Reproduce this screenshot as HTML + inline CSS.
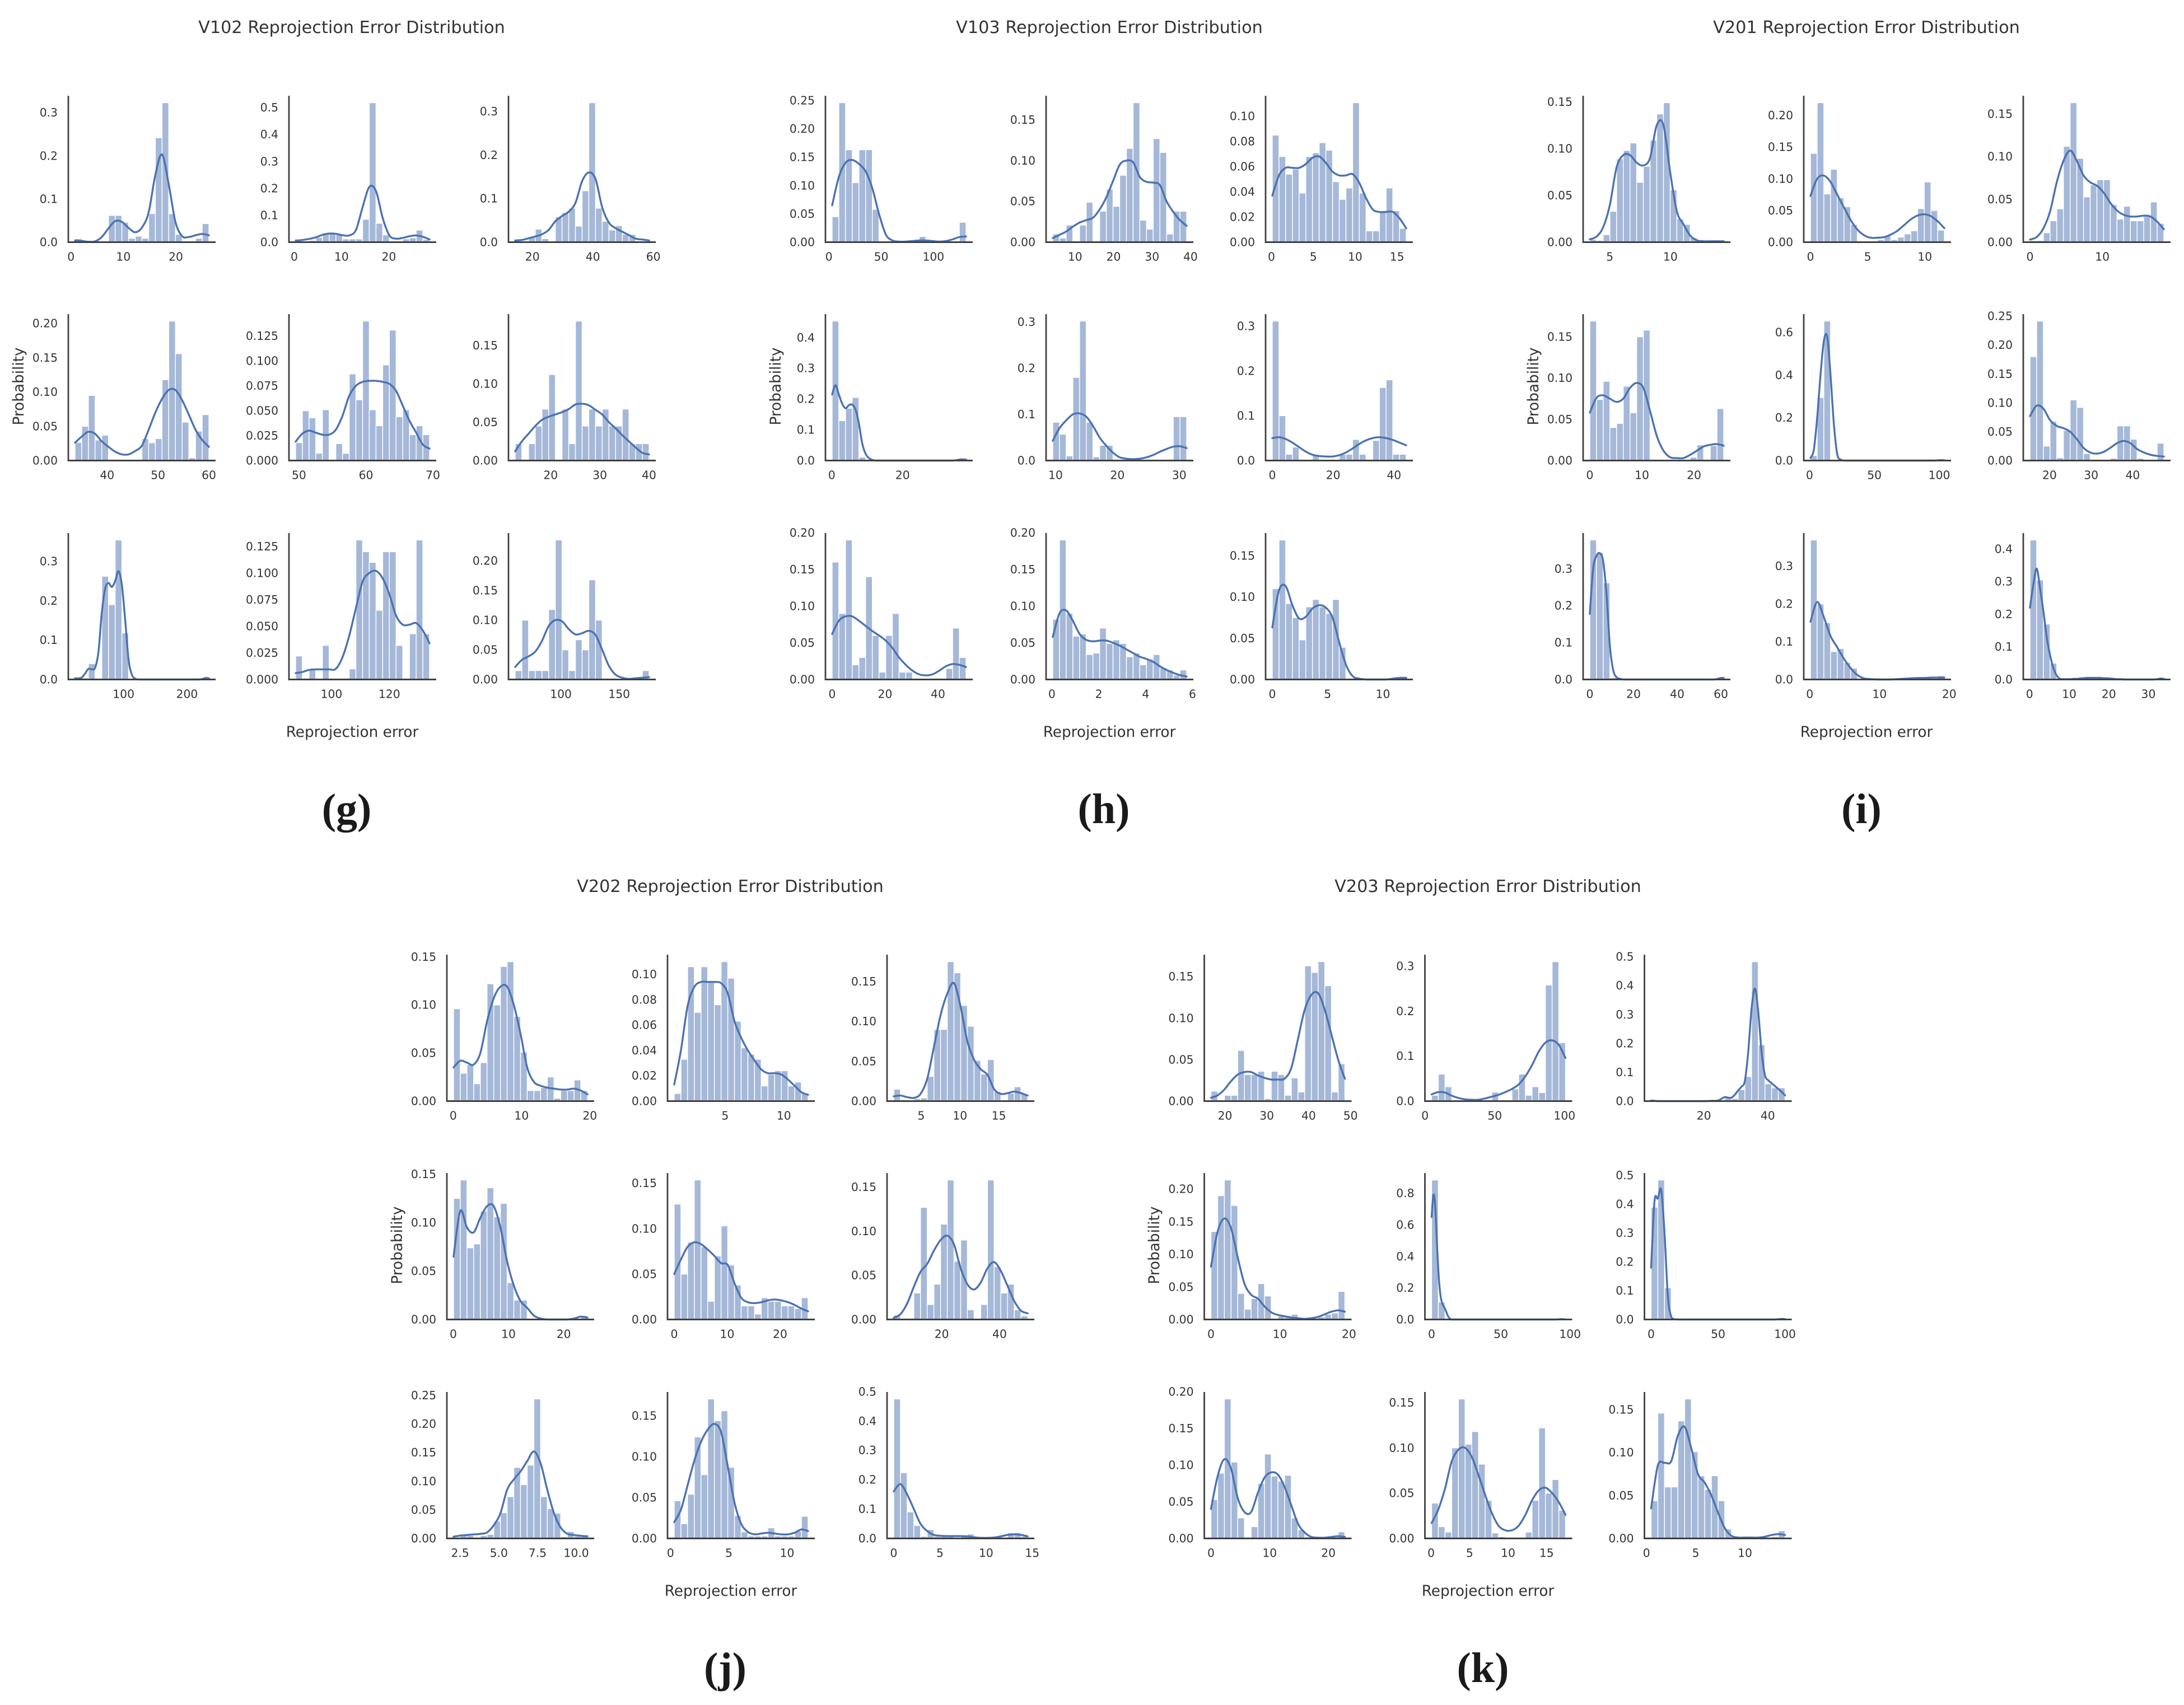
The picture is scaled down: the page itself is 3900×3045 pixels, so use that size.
<!DOCTYPE html>
<html lang="en">
<head>
<meta charset="utf-8">
<title>Reprojection Error Distributions</title>
<style>
html,body{margin:0;padding:0;background:#fff;}
svg{display:block;}
text{font-family:"DejaVu Sans","Liberation Sans",sans-serif;fill:#333;}
.title{font-size:30.3px;text-anchor:middle;}
.axlabel{font-size:26.3px;text-anchor:middle;}
.letter{font-family:"Liberation Serif",serif;font-size:76px;font-weight:bold;text-anchor:middle;fill:#1a1a1a;}
.tick{font-size:20.3px;}
</style>
</head>
<body>
<svg id="figure" xmlns="http://www.w3.org/2000/svg" width="3900" height="3045" viewBox="0 0 3900 3045">
<rect x="0" y="0" width="3900" height="3045" fill="#fff"/>
<text class="title" x="628" y="59">V102 Reprojection Error Distribution</text>
<text class="title" x="1981" y="59">V103 Reprojection Error Distribution</text>
<text class="title" x="3333" y="59">V201 Reprojection Error Distribution</text>
<text class="title" x="1304" y="1593">V202 Reprojection Error Distribution</text>
<text class="title" x="2657" y="1593">V203 Reprojection Error Distribution</text>
<text class="axlabel" x="629" y="1316">Reprojection error</text>
<text class="axlabel" x="1981" y="1316">Reprojection error</text>
<text class="axlabel" x="3333" y="1316">Reprojection error</text>
<text class="axlabel" x="1305" y="2850">Reprojection error</text>
<text class="axlabel" x="2657" y="2850">Reprojection error</text>
<text class="axlabel" transform="translate(42,690) rotate(-90)">Probability</text>
<text class="axlabel" transform="translate(1394,690) rotate(-90)">Probability</text>
<text class="axlabel" transform="translate(2747,690) rotate(-90)">Probability</text>
<text class="axlabel" transform="translate(718,2224) rotate(-90)">Probability</text>
<text class="axlabel" transform="translate(2070,2224) rotate(-90)">Probability</text>
<text class="letter" x="619" y="1470">(g)</text>
<text class="letter" x="1971" y="1470">(h)</text>
<text class="letter" x="3324" y="1470">(i)</text>
<text class="letter" x="1295" y="3004">(j)</text>
<text class="letter" x="2648" y="3004">(k)</text>
</svg>
<script>
/* V102 (g) */
const g1Range=[0.78,26.3];
const g1Bars=[.008,0,0,0,.003,.062,.062,.046,.009,.014,.009,.066,.242,.323,.066,.018,.003,.003,.009,.043];
const g1Kde=[.004,.003,.001,.002,.012,.032,.049,.047,.033,.023,.034,.069,.156,.203,.134,.047,.014,.012,.016,.019,.016];
const g1XTicks=['0','10','20'];
const g1YTicks=['0.0','0.1','0.2','0.3'];
const g2Range=[0.3,28.6];
const g2Bars=[.003,.003,.007,.018,.035,.035,.028,.012,.012,.012,.085,.518,.07,.027,.002,.002,.012,.016,.045,.01];
const g2Kde=[.006,.008,.012,.018,.027,.032,.031,.026,.025,.045,.13,.205,.19,.09,.025,.013,.016,.022,.025,.02,.01];
const g2XTicks=['0','10','20'];
const g2YTicks=['0.0','0.1','0.2','0.3','0.4','0.5'];
const g3Range=[14.3,58.6];
const g3Bars=[.003,.003,.012,.03,.008,0,.058,.068,.078,.037,.118,.32,.078,.048,.028,.038,.018,.018,.003,.003];
const g3Kde=[.004,.005,.009,.013,.018,.028,.048,.06,.07,.09,.14,.16,.145,.08,.045,.032,.024,.016,.008,.006,.004];
const g3XTicks=['20','40','60'];
const g3YTicks=['0.0','0.1','0.2','0.3'];
const g4Range=[33.7,60];
const g4Bars=[.0265,.05,.095,.03,.037,0,0,0,0,0,.032,.026,.032,.118,.2035,.156,.056,.004,.043,.067];
const g4Kde=[.026,.035,.042,.039,.028,.02,.013,.009,.009,.014,.022,.045,.07,.09,.103,.103,.088,.067,.045,.03,.02];
const g4XTicks=['40','50','60'];
const g4YTicks=['0.00','0.05','0.10','0.15','0.20'];
const g5Range=[49.5,69.5];
const g5Bars=[.018,.05,.043,.0073,.051,0,.017,.0073,.087,.061,.14,.051,.035,.096,.131,.044,.051,.026,.035,.026];
const g5Kde=[.019,.027,.03,.028,.026,.026,.031,.045,.065,.075,.079,.08,.08,.079,.077,.07,.055,.04,.028,.016,.012];
const g5XTicks=['50','60','70'];
const g5YTicks=['0.000','0.025','0.050','0.075','0.100','0.125'];
const g6Range=[12.8,40];
const g6Bars=[.022,0,.022,.045,.067,.112,0,.067,.022,.1816,.045,.067,.045,.067,.045,.045,.067,.022,.022,.022];
const g6Kde=[.012,.025,.035,.045,.053,.057,.06,.063,.067,.073,.074,.072,.066,.06,.05,.042,.033,.025,.017,.01,.008];
const g6XTicks=['20','30','40'];
const g6YTicks=['0.00','0.05','0.10','0.15'];
const g7Range=[23.5,234.5];
const g7Bars=[.005,.004,.04,0,.262,.19,.354,.118,0,0,0,0,0,0,0,0,0,0,0,.004];
const g7Kde=[.003,.003,.005,.015,.027,.026,.03,.07,.17,.23,.245,.235,.25,.275,.24,.15,.05,.012,.002,0,0,0,0,0,0,0,0,0,0,0,0,0,0,0,0,0,0,0,.001,.004,.003];
const g7XTicks=['100','200'];
const g7YTicks=['0.0','0.1','0.2','0.3'];
const g8Range=[87.6,133.9];
const g8Bars=[.022,0,.009,0,.032,0,0,0,.01,.131,.12,.11,.065,.12,.12,.032,0,.043,.131,.043];
const g8Kde=[.006,.007,.009,.0095,.0095,.0095,.01,.021,.041,.067,.092,.1,.102,.095,.08,.06,.0515,.0515,.053,.046,.034];
const g8XTicks=['100','120'];
const g8YTicks=['0.000','0.025','0.050','0.075','0.100','0.125'];
const g9Range=[60.8,175.6];
const g9Bars=[.015,.1,.015,.015,.015,.118,.235,.05,.015,.067,.05,.168,.1,0,0,0,0,0,0,.015];
const g9Kde=[.021,.033,.039,.047,.065,.09,.1,.098,.085,.076,.078,.082,.075,.05,.023,.008,.003,.001,.002,.003,.004];
const g9XTicks=['100','150'];
const g9YTicks=['0.00','0.05','0.10','0.15','0.20'];

/* V103 (h) */
const h1Range=[3.1,131.2];
const h1Bars=[.045,.246,.163,.105,.163,.163,.058,0,0,0,0,0,0,.01,0,0,0,0,0,.035];
const h1Kde=[.065,.115,.14,.145,.138,.125,.095,.05,.014,.003,.001,.001,.002,.003,.003,.002,.001,.002,.005,.009,.01];
const h1XTicks=['0','50','100'];
const h1YTicks=['0.00','0.05','0.10','0.15','0.20','0.25'];
const h2Range=[4.2,39];
const h2Bars=[.01,.005,.021,0,.021,.049,0,.038,.065,.044,.082,.115,.171,.027,.016,.127,.11,.01,.038,.038];
const h2Kde=[.005,.009,.013,.019,.024,.027,.03,.04,.055,.075,.095,.1,.098,.08,.074,.073,.07,.05,.037,.027,.02];
const h2XTicks=['10','20','30','40'];
const h2YTicks=['0.00','0.05','0.10','0.15'];
const h3Range=[0.1,16.1];
const h3Bars=[.085,.068,.054,.058,.039,.068,.071,.079,.073,.048,.034,.043,.1107,.039,.009,.009,.025,.043,.025,.011];
const h3Kde=[.037,.053,.059,.059,.059,.062,.067,.068,.063,.056,.053,.053,.054,.047,.035,.026,.024,.024,.024,.019,.011];
const h3XTicks=['0','5','10','15'];
const h3YTicks=['0.00','0.02','0.04','0.06','0.08','0.10'];
const h4Range=[0.1,37.9];
const h4Bars=[.4535,.13,.17,.205,.011,0,0,0,0,0,0,0,0,0,0,0,0,0,0,.003];
const h4Kde=[.215,.245,.215,.185,.17,.18,.182,.165,.12,.055,.022,.008,.002,0,0,0,0,0,0,0,0,0,0,0,0,0,0,0,0,0,0,0,0,0,0,0,0,.001,.003,.004,.003];
const h4XTicks=['0','20'];
const h4YTicks=['0.0','0.1','0.2','0.3','0.4'];
const h5Range=[9.55,31.2];
const h5Bars=[.083,.057,.01,.18,.302,.083,.008,.033,.033,0,0,0,0,0,0,0,0,0,.095,.095];
const h5Kde=[.043,.07,.087,.1,.102,.095,.075,.05,.032,.017,.007,.004,.003,.004,.007,.012,.019,.025,.03,.031,.027];
const h5XTicks=['10','20','30'];
const h5YTicks=['0.0','0.1','0.2','0.3'];
const h6Range=[0,44];
const h6Bars=[.311,.1,.014,.03,0,0,.014,0,0,0,.014,.014,.047,.014,0,.045,.163,.18,.014,.014];
const h6Kde=[.05,.052,.048,.04,.03,.02,.013,.01,.009,.009,.012,.018,.027,.037,.045,.05,.052,.05,.046,.04,.034];
const h6XTicks=['0','20','40'];
const h6YTicks=['0.0','0.1','0.2','0.3'];
const h7Range=[0,50.6];
const h7Bars=[.16,.09,.19,.02,.03,.14,.06,.01,.06,.09,.01,.01,0,0,0,0,0,.015,.07,.03];
const h7Kde=[.062,.08,.086,.086,.08,.073,.066,.06,.053,.043,.03,.02,.012,.007,.0056,.007,.012,.018,.021,.02,.017];
const h7XTicks=['0','20','40'];
const h7YTicks=['0.00','0.05','0.10','0.15','0.20'];
const h8Range=[0.04,5.75];
const h8Bars=[.082,.19,.09,.059,.062,.034,.036,.07,.049,.054,.049,.031,.036,.02,.028,.034,.016,.013,.006,.013];
const h8Kde=[.058,.09,.094,.08,.062,.054,.052,.053,.053,.05,.046,.041,.036,.031,.028,.024,.018,.013,.009,.006,.004];
const h8XTicks=['0','2','4','6'];
const h8YTicks=['0.00','0.05','0.10','0.15','0.20'];
const h9Range=[0,12.1];
const h9Bars=[.11,.169,.092,.075,.048,.088,.097,.088,.08,.097,.039,0,0,0,0,0,0,0,0,.003];
const h9Kde=[.063,.108,.113,.09,.074,.076,.086,.09,.087,.075,.045,.018,.004,.001,0,0,0,0,.001,.002,.002];
const h9XTicks=['0','5','10'];
const h9YTicks=['0.00','0.05','0.10','0.15'];

/* V201 (i) */
const i1Range=[3.35,14.4];
const i1Bars=[.003,.002,.008,.033,.089,.098,.106,.064,.081,.109,.137,.149,.056,.025,.019,.005,.001,.002,.002,.002];
const i1Kde=[.003,.006,.016,.04,.08,.093,.093,.085,.082,.09,.125,.125,.075,.033,.019,.007,.002,.001,.001,.001,.001];
const i1XTicks=['5','10'];
const i1YTicks=['0.00','0.05','0.10','0.15'];
const i2Range=[0,11.7];
const i2Bars=[.14,.22,.076,.115,.07,.056,.028,.002,0,0,.004,.01,.004,.008,.013,.018,.053,.095,.05,.019];
const i2Kde=[.073,.1,.105,.095,.075,.055,.035,.02,.011,.007,.007,.008,.012,.018,.027,.036,.042,.044,.041,.033,.022];
const i2XTicks=['0','5','10'];
const i2YTicks=['0.00','0.05','0.10','0.15','0.20'];
const i3Range=[0,18.5];
const i3Bars=[.002,.002,.011,.025,.039,.112,.163,.098,.053,.067,.073,.073,.044,.027,.042,.025,.025,.03,.047,.022];
const i3Kde=[.003,.006,.016,.036,.07,.095,.107,.095,.078,.07,.066,.058,.046,.037,.032,.03,.03,.031,.03,.024,.015];
const i3XTicks=['0','10'];
const i3YTicks=['0.00','0.05','0.10','0.15'];
const i4Range=[0,25.7];
const i4Bars=[.169,.074,.096,.04,.045,.09,.058,.15,.158,0,0,0,0,0,0,.004,.019,0,.018,.063];
const i4Kde=[.058,.076,.079,.075,.071,.075,.088,.094,.088,.06,.03,.012,.004,.003,.003,.007,.012,.017,.019,.02,.018];
const i4XTicks=['0','10','20'];
const i4YTicks=['0.00','0.05','0.10','0.15'];
const i5Range=[0.7,103.9];
const i5Bars=[.023,.295,.653,0,0,0,0,0,0,0,0,0,0,0,0,0,0,0,0,.002];
const i5Kde=[.012,.05,.2,.4,.56,.58,.4,.17,.03,.005,0,0,0,0,0,0,0,0,0,0,0,0,0,0,0,0,0,0,0,0,0,0,0,0,0,0,0,0,.001,.002,.001];
const i5XTicks=['0','50','100'];
const i5YTicks=['0.0','0.2','0.4','0.6'];
const i6Range=[15.3,47.5];
const i6Bars=[.18,.2415,.025,.068,.005,.052,.105,.092,.012,0,0,0,.004,.06,.06,.037,.004,0,0,.03];
const i6Kde=[.077,.095,.09,.07,.06,.056,.05,.037,.022,.014,.012,.015,.022,.03,.034,.03,.02,.014,.01,.008,.007];
const i6XTicks=['20','30','40'];
const i6YTicks=['0.00','0.05','0.10','0.15','0.20','0.25'];
const i7Range=[0,61.3];
const i7Bars=[.378,.345,.262,.005,0,0,0,0,0,0,0,0,0,0,0,0,0,0,0,.004];
const i7Kde=[.178,.3,.335,.342,.32,.23,.09,.025,.006,.002,0,0,0,0,0,0,0,0,0,0,0,0,0,0,0,0,0,0,0,0,0,0,0,0,0,0,0,0,.001,.004,.004];
const i7XTicks=['0','20','40','60'];
const i7YTicks=['0.0','0.1','0.2','0.3'];
const i8Range=[0.1,19.3];
const i8Bars=[.369,.2,.15,.074,.082,.045,.03,.003,0,0,0,0,0,0,0,0,0,0,0,.01];
const i8Kde=[.153,.205,.165,.115,.085,.055,.03,.012,.003,.001,0,0,0,.001,.002,.003,.004,.004,.005,.005,.005];
const i8XTicks=['0','10','20'];
const i8YTicks=['0.0','0.1','0.2','0.3'];
const i9Range=[0.1,33.9];
const i9Bars=[.4275,.305,.17,.05,0,0,0,0,0,0,.003,.003,.003,0,0,0,0,0,0,.002];
const i9Kde=[.22,.29,.34,.28,.21,.13,.075,.035,.012,.002,.001,.001,.001,.002,.002,.003,.004,.005,.005,.005,.005,.005,.004,.004,.003,.002,.001,.001,0,0,0,0,0,0,0,0,0,0,.001,.003,.002];
const i9XTicks=['0','10','20','30'];
const i9YTicks=['0.0','0.1','0.2','0.3','0.4'];

/* V202 (j) */
const j1Range=[0.05,19.65];
const j1Bars=[.096,.029,.038,.018,.04,.122,.1,.14,.145,.088,.051,.011,.011,.014,.025,.003,.011,.011,.022,.011];
const j1Kde=[.035,.042,.04,.038,.05,.083,.107,.119,.119,.1,.07,.035,.02,.016,.014,.013,.012,.012,.013,.011,.007];
const j1XTicks=['0','10','20'];
const j1YTicks=['0.00','0.05','0.10','0.15'];
const j2Range=[0.67,12.06];
const j2Bars=[.006,.033,.106,.07,.106,.095,.076,.11,.097,.063,.042,.037,.033,.012,.021,.024,.024,.012,.015,.006];
const j2Kde=[.013,.04,.075,.09,.094,.094,.094,.093,.085,.063,.05,.04,.032,.025,.022,.022,.021,.017,.012,.007,.005];
const j2XTicks=['5','10'];
const j2YTicks=['0.00','0.02','0.04','0.06','0.08','0.10'];
const j3Range=[1.47,18.7];
const j3Bars=[.015,.002,0,.003,.004,.031,.09,.09,.175,.161,.12,.094,.051,.034,.052,.012,.001,.01,.018,.009];
const j3Kde=[.006,.007,.005,.004,.009,.028,.068,.108,.135,.148,.118,.075,.052,.04,.033,.015,.009,.01,.012,.01,.007];
const j3XTicks=['5','10','15'];
const j3YTicks=['0.00','0.05','0.10','0.15'];
const j4Range=[0.05,24.3];
const j4Bars=[.125,.144,.074,.078,.112,.136,.106,.12,.038,.02,.02,0,0,0,0,0,0,0,0,.004];
const j4Kde=[.065,.112,.095,.09,.105,.117,.117,.095,.06,.035,.019,.012,.004,.001,0,0,0,0,.001,.003,.002];
const j4XTicks=['0','10','20'];
const j4YTicks=['0.00','0.05','0.10','0.15'];
const j5Range=[0,25.3];
const j5Bars=[.127,.05,.085,.1535,.08,.02,.07,.103,.06,.038,.015,.015,.006,.024,.02,.02,.015,.015,.012,.024];
const j5Kde=[.05,.066,.08,.085,.083,.077,.07,.062,.06,.04,.024,.019,.018,.019,.021,.022,.021,.019,.016,.012,.009];
const j5XTicks=['0','10','20'];
const j5YTicks=['0.00','0.05','0.10','0.15'];
const j6Range=[3.4,49.7];
const j6Bars=[.005,0,0,.03,.127,.017,.04,.108,.158,.066,.09,.011,0,.017,.158,.06,.03,.04,.011,.004];
const j6Kde=[.002,.006,.018,.037,.054,.063,.078,.09,.095,.085,.058,.04,.034,.042,.058,.065,.055,.038,.021,.01,.007];
const j6XTicks=['20','40'];
const j6YTicks=['0.00','0.05','0.10','0.15'];
const j7Range=[2.08,10.72];
const j7Bars=[.002,.007,.005,.002,.005,.007,.03,.045,.073,.124,.094,.128,.2436,.073,.052,.044,.003,.012,.004,.006];
const j7Kde=[.003,.005,.006,.007,.008,.0105,.023,.044,.085,.103,.117,.135,.152,.131,.085,.044,.019,.008,.006,.0046,.0037];
const j7XTicks=['2.5','5.0','7.5','10.0'];
const j7YTicks=['0.00','0.05','0.10','0.15','0.20','0.25'];
const j8Range=[0.32,11.8];
const j8Bars=[.046,.018,.054,.124,.078,.1705,.144,.156,.087,.028,.008,.003,.003,.003,.013,.003,.003,.003,.009,.027];
const j8Kde=[.02,.035,.065,.095,.118,.133,.14,.13,.088,.044,.018,.008,.005,.006,.007,.006,.005,.005,.007,.011,.009];
const j8XTicks=['0','5','10'];
const j8YTicks=['0.00','0.05','0.10','0.15'];
const j9Range=[0,14.5];
const j9Bars=[.475,.224,.09,.044,.007,.03,.007,.007,.007,.003,.007,.015,0,0,0,0,0,.019,.02,.007];
const j9Kde=[.16,.185,.15,.1,.05,.025,.012,.009,.008,.008,.008,.007,.004,.002,.002,.003,.007,.012,.014,.012,.007];
const j9XTicks=['0','5','10','15'];
const j9YTicks=['0.0','0.1','0.2','0.3','0.4','0.5'];

/* V203 (k) */
const k1Range=[16.65,48.65];
const k1Bars=[.012,0,.007,.007,.061,.032,.032,.036,.003,.036,.032,.007,.028,.011,.163,.155,.168,.139,.011,.045];
const k1Kde=[.004,.007,.014,.024,.032,.035,.035,.031,.028,.026,.026,.027,.04,.075,.11,.128,.13,.11,.08,.05,.027];
const k1XTicks=['20','30','40','50'];
const k1YTicks=['0.00','0.05','0.10','0.15'];
const k2Range=[4.7,100.7];
const k2Bars=[.013,.06,.032,0,0,0,0,0,.003,.02,.001,.001,.027,.06,.013,.032,.019,.258,.31,.13];
const k2Kde=[.015,.02,.019,.012,.007,.004,.003,.003,.006,.01,.014,.02,.027,.037,.055,.08,.11,.13,.135,.125,.096];
const k2XTicks=['0','50','100'];
const k2YTicks=['0.0','0.1','0.2','0.3'];
const k3Range=[3.5,45.4];
const k3Bars=[.004,0,0,0,0,0,0,0,0,0,0,.013,.009,.04,.085,.483,.195,.06,.046,.046];
const k3Kde=[.002,.001,0,0,0,0,0,0,0,0,0,0,0,0,0,0,0,0,.001,.001,.002,.008,.014,.012,.012,.022,.037,.05,.07,.17,.32,.39,.31,.17,.09,.072,.062,.052,.042,.032,.02];
const k3XTicks=['20','40'];
const k3YTicks=['0.0','0.1','0.2','0.3','0.4','0.5'];
const k4Range=[0,19.4];
const k4Bars=[.135,.19,.214,.175,.04,.016,.032,.055,.036,0,.005,.006,.008,.002,.001,.001,.004,.008,.01,.043];
const k4Kde=[.081,.135,.155,.14,.095,.055,.038,.032,.02,.011,.007,.005,.003,.002,.001,.002,.004,.008,.012,.014,.012];
const k4XTicks=['0','10','20'];
const k4YTicks=['0.00','0.05','0.10','0.15','0.20'];
const k5Range=[0,96.7];
const k5Bars=[.884,.11,0,0,0,0,0,0,0,0,0,0,0,0,0,0,0,0,0,.003];
const k5Kde=[.65,.79,.72,.48,.27,.15,.1,.08,.055,.025,.008,
0,0,0,0,0,0,0,0,0,0,0,0,0,0,0,0,0,0,0,0,0,0,0,0,0,0,0,0,0,0,0,0,0,0,0,
0,0,0,0,0,0,0,0,0,0,0,0,0,0,0,0,0,0,0,0,0,0,0,0,0,
.001,.002,.002,.001,.001];
const k5XTicks=['0','50','100'];
const k5YTicks=['0.0','0.2','0.4','0.6','0.8'];
const k6Range=[0,100];
const k6Bars=[.39,.484,.11,0,0,0,0,0,0,0,0,0,0,0,0,0,0,0,0,.003];
const k6Kde=[.18,.41,.42,.45,.3,.08,.01,.001,0,0,0,0,0,0,0,0,0,0,0,0,0,0,0,0,0,0,0,0,0,0,0,0,0,0,0,0,0,0,.001,.002,.001];
const k6XTicks=['0','50','100'];
const k6YTicks=['0.0','0.1','0.2','0.3','0.4','0.5'];
const k7Range=[0,22.8];
const k7Bars=[.053,.089,.19,.104,.028,.001,.016,.075,.115,.085,.078,.086,.028,.012,.002,0,0,0,0,.009];
const k7Kde=[.04,.085,.108,.095,.055,.036,.036,.062,.083,.09,.087,.07,.045,.02,.008,.002,.001,.001,.002,.003,.002];
const k7XTicks=['0','10','20'];
const k7YTicks=['0.00','0.05','0.10','0.15','0.20'];
const k8Range=[0.06,17.46];
const k8Bars=[.039,.013,.007,.1,.154,.104,.118,.082,.042,.006,.002,0,0,0,.007,.042,.122,.05,.065,.031];
const k8Kde=[.017,.032,.055,.085,.098,.1,.09,.07,.048,.028,.014,.009,.009,.014,.026,.042,.053,.056,.05,.04,.026];
const k8XTicks=['0','5','10','15'];
const k8YTicks=['0.00','0.05','0.10','0.15'];
const k9Range=[0.47,14.07];
const k9Bars=[.044,.146,.06,.06,.137,.1625,.101,.073,.057,.073,.044,.011,.001,.001,.001,.001,.001,.001,.002,.009];
const k9Kde=[.035,.085,.088,.09,.12,.13,.105,.075,.065,.05,.03,.012,.003,.001,.001,.001,.001,.002,.004,.005,.004];
const k9XTicks=['0','5','10'];
const k9YTicks=['0.00','0.05','0.10','0.15'];

const panels = [
  {id:'g', left:122,    top:0,    charts:[[g1Range,g1Bars,g1Kde,g1XTicks,g1YTicks],[g2Range,g2Bars,g2Kde,g2XTicks,g2YTicks],[g3Range,g3Bars,g3Kde,g3XTicks,g3YTicks],[g4Range,g4Bars,g4Kde,g4XTicks,g4YTicks],[g5Range,g5Bars,g5Kde,g5XTicks,g5YTicks],[g6Range,g6Bars,g6Kde,g6XTicks,g6YTicks],[g7Range,g7Bars,g7Kde,g7XTicks,g7YTicks],[g8Range,g8Bars,g8Kde,g8XTicks,g8YTicks],[g9Range,g9Bars,g9Kde,g9XTicks,g9YTicks]]},
  {id:'h', left:1474,   top:0,    charts:[[h1Range,h1Bars,h1Kde,h1XTicks,h1YTicks],[h2Range,h2Bars,h2Kde,h2XTicks,h2YTicks],[h3Range,h3Bars,h3Kde,h3XTicks,h3YTicks],[h4Range,h4Bars,h4Kde,h4XTicks,h4YTicks],[h5Range,h5Bars,h5Kde,h5XTicks,h5YTicks],[h6Range,h6Bars,h6Kde,h6XTicks,h6YTicks],[h7Range,h7Bars,h7Kde,h7XTicks,h7YTicks],[h8Range,h8Bars,h8Kde,h8XTicks,h8YTicks],[h9Range,h9Bars,h9Kde,h9XTicks,h9YTicks]]},
  {id:'i', left:2827,   top:0,    charts:[[i1Range,i1Bars,i1Kde,i1XTicks,i1YTicks],[i2Range,i2Bars,i2Kde,i2XTicks,i2YTicks],[i3Range,i3Bars,i3Kde,i3XTicks,i3YTicks],[i4Range,i4Bars,i4Kde,i4XTicks,i4YTicks],[i5Range,i5Bars,i5Kde,i5XTicks,i5YTicks],[i6Range,i6Bars,i6Kde,i6XTicks,i6YTicks],[i7Range,i7Bars,i7Kde,i7XTicks,i7YTicks],[i8Range,i8Bars,i8Kde,i8XTicks,i8YTicks],[i9Range,i9Bars,i9Kde,i9XTicks,i9YTicks]]},
  {id:'j', left:798,    top:1534, charts:[[j1Range,j1Bars,j1Kde,j1XTicks,j1YTicks],[j2Range,j2Bars,j2Kde,j2XTicks,j2YTicks],[j3Range,j3Bars,j3Kde,j3XTicks,j3YTicks],[j4Range,j4Bars,j4Kde,j4XTicks,j4YTicks],[j5Range,j5Bars,j5Kde,j5XTicks,j5YTicks],[j6Range,j6Bars,j6Kde,j6XTicks,j6YTicks],[j7Range,j7Bars,j7Kde,j7XTicks,j7YTicks],[j8Range,j8Bars,j8Kde,j8XTicks,j8YTicks],[j9Range,j9Bars,j9Kde,j9XTicks,j9YTicks]]},
  {id:'k', left:2150.5, top:1534, charts:[[k1Range,k1Bars,k1Kde,k1XTicks,k1YTicks],[k2Range,k2Bars,k2Kde,k2XTicks,k2YTicks],[k3Range,k3Bars,k3Kde,k3XTicks,k3YTicks],[k4Range,k4Bars,k4Kde,k4XTicks,k4YTicks],[k5Range,k5Bars,k5Kde,k5XTicks,k5YTicks],[k6Range,k6Bars,k6Kde,k6XTicks,k6YTicks],[k7Range,k7Bars,k7Kde,k7XTicks,k7YTicks],[k8Range,k8Bars,k8Kde,k8XTicks,k8YTicks],[k9Range,k9Bars,k9Kde,k9XTicks,k9YTicks]]}
];

const NS = 'http://www.w3.org/2000/svg';
const svg = document.getElementById('figure');
const COL_OFFSETS = [0, 394, 786];
const ROW_TOPS = [171, 561, 952];
const AX_W = 263;
const AX_H = 261.5;

function make(tag, attrs, parent) {
  const el = document.createElementNS(NS, tag);
  for (const k in attrs) el.setAttribute(k, attrs[k]);
  parent.appendChild(el);
  return el;
}

function xAxisScale(range, left) {
  const span = range[1] - range[0];
  const d0 = range[0] - 0.05 * span;
  const d1 = range[1] + 0.05 * span;
  return v => left + AX_W * (v - d0) / (d1 - d0);
}

function yAxisScale(values, bottom) {
  const top = Math.max.apply(null, values) * 1.05;
  return v => bottom - AX_H * v / top;
}

function smoothPath(pts, floor) {
  let d = 'M' + pts[0][0].toFixed(2) + ' ' + pts[0][1].toFixed(2);
  for (let i = 0; i < pts.length - 1; i++) {
    const p0 = pts[Math.max(i - 1, 0)];
    const p1 = pts[i];
    const p2 = pts[i + 1];
    const p3 = pts[Math.min(i + 2, pts.length - 1)];
    const c1x = p1[0] + (p2[0] - p0[0]) / 6;
    const c1y = Math.min(p1[1] + (p2[1] - p0[1]) / 6, floor);
    const c2x = p2[0] - (p3[0] - p1[0]) / 6;
    const c2y = Math.min(p2[1] - (p3[1] - p1[1]) / 6, floor);
    d += 'C' + c1x.toFixed(2) + ' ' + c1y.toFixed(2) + ' ' + c2x.toFixed(2) + ' ' + c2y.toFixed(2) + ' ' + p2[0].toFixed(2) + ' ' + p2[1].toFixed(2);
  }
  return d;
}

function drawChart(panel, index, spec) {
  const range = spec[0], bars = spec[1], kde = spec[2], xTicks = spec[3], yTicks = spec[4];
  const left = panel.left + COL_OFFSETS[index % 3];
  const top = panel.top + ROW_TOPS[Math.floor(index / 3)];
  const bottom = top + AX_H;
  const x = xAxisScale(range, left);
  const y = yAxisScale(bars, bottom);
  const label = panel.id + (index + 1);

  const group = make('g', {}, svg);
  
  

  const binWidth = (range[1] - range[0]) / bars.length;
  bars.forEach((v, i) => {
    const x0 = x(range[0] + i * binWidth);
    const x1 = x(range[0] + (i + 1) * binWidth);
    const r = make('rect', {x: x0, y: y(v), width: x1 - x0, height: bottom - y(v), fill: '#a5b8d8', stroke: '#ffffff', 'stroke-width': 1.4}, group);
    
    
  });

  const pts = kde.map((v, i) => [x(range[0] + (range[1] - range[0]) * i / (kde.length - 1)), y(v)]);
  const line = make('path', {d: smoothPath(pts, bottom), fill: 'none', stroke: '#4c72b0', 'stroke-width': 3.4, 'stroke-linejoin': 'round', 'stroke-linecap': 'round'}, group);
  
  

  const ySpine = make('line', {x1: left, y1: top, x2: left, y2: bottom + 1.5, stroke: '#404040', 'stroke-width': 2.8}, group);
  
  
  const xSpine = make('line', {x1: left, y1: bottom, x2: left + AX_W, y2: bottom, stroke: '#404040', 'stroke-width': 3}, group);
  
  

  xTicks.forEach(t => {
    const el = make('text', {class: 'tick', x: x(Number(t)), y: bottom + 33, 'text-anchor': 'middle'}, group);
    
    
    el.textContent = t;
  });
  yTicks.forEach(t => {
    const el = make('text', {class: 'tick', x: left - 19, y: y(Number(t)) + 7, 'text-anchor': 'end'}, group);
    
    
    el.textContent = t;
  });
}

panels.forEach(panel => {
  panel.charts.forEach((spec, index) => drawChart(panel, index, spec));
});
</script>
</body>
</html>
